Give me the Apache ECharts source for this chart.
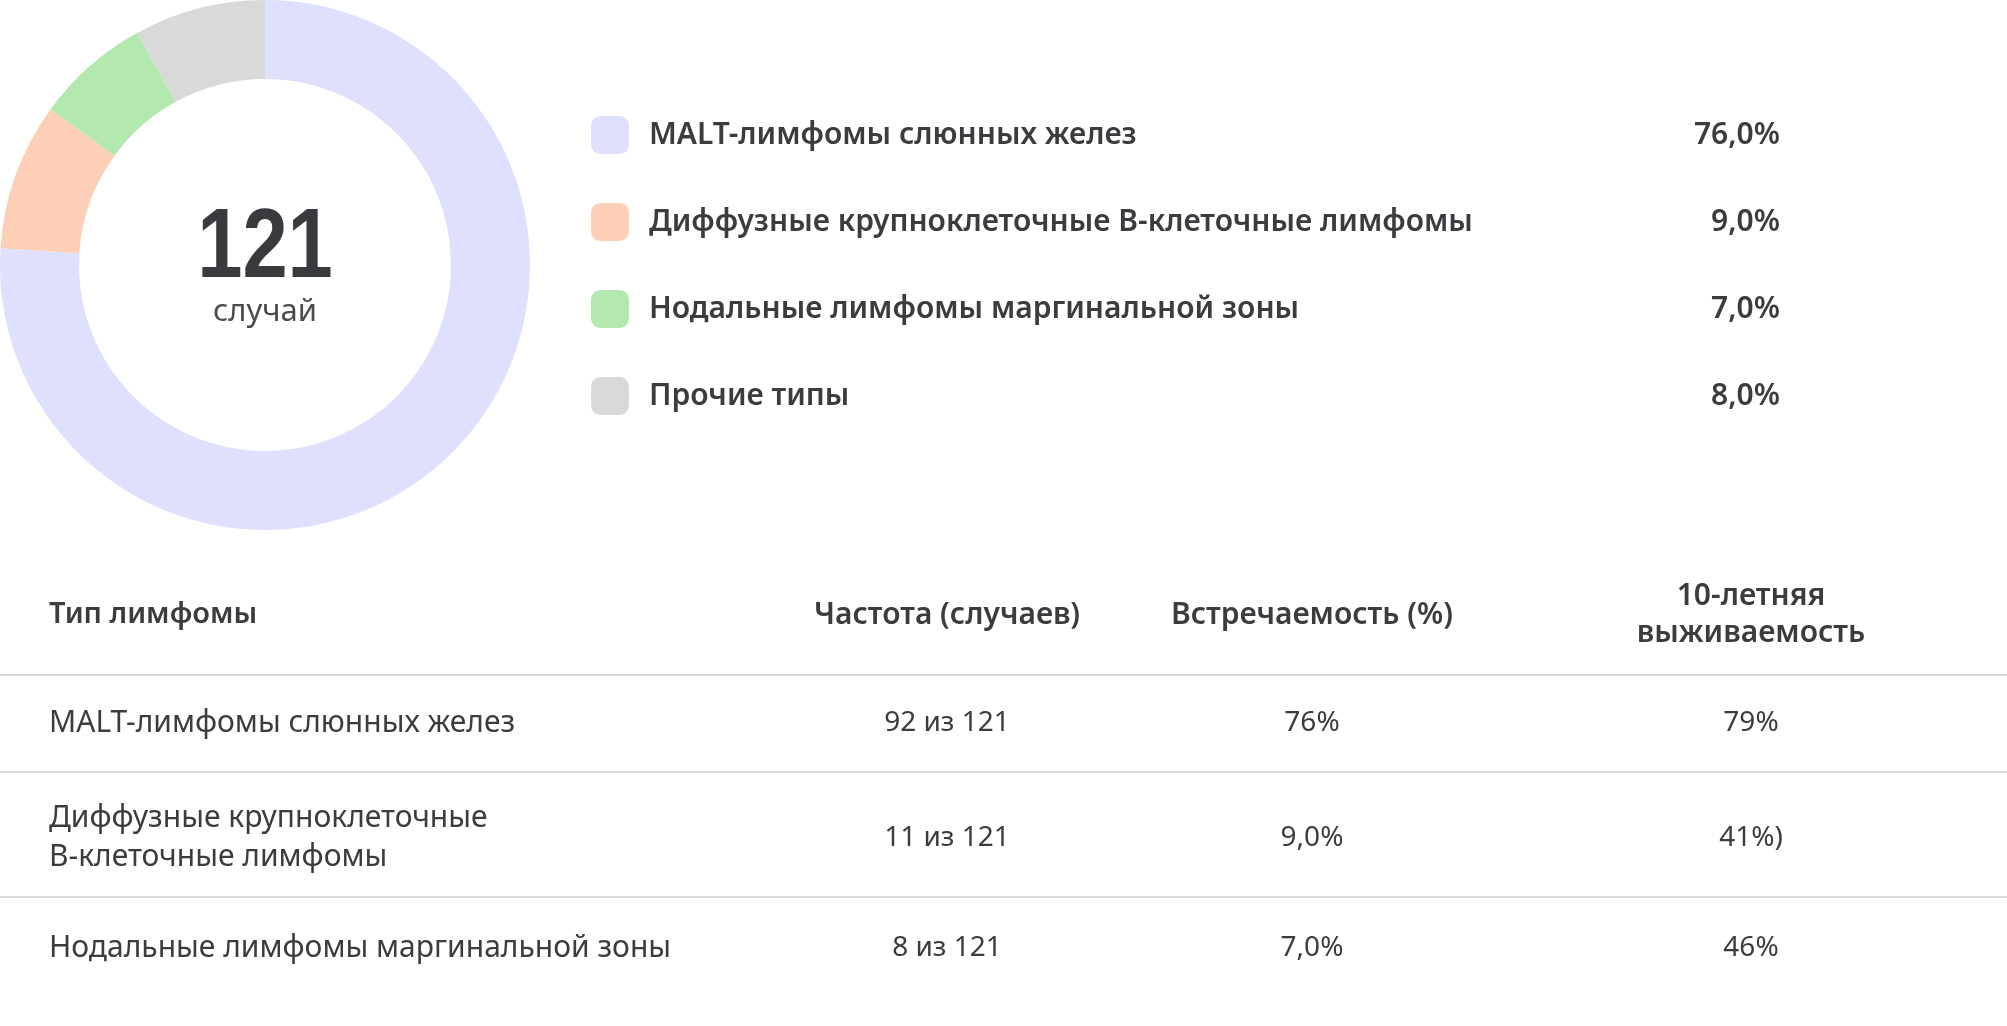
<!DOCTYPE html>
<html><head><meta charset="utf-8">
<script src="https://cdn.jsdelivr.net/npm/echarts@6/dist/echarts.min.js"></script>
<style>html,body{margin:0;padding:0;background:#fff}#c{width:2007px;height:1026px}</style>
</head><body><div id="c"></div>
<script>
const categories = ['MALT-лимфомы слюнных желез','Диффузные крупноклеточные B-клеточные лимфомы','Нодальные лимфомы маргинальной зоны','Прочие типы'];
const shares = [76, 9, 7, 8];
const shareLabels = ['76,0%','9,0%','7,0%','8,0%'];
const colors = ['#dee0fd','#fecfb7','#b3e8ae','#d9d9d9'];
const totalCases = '121';
const totalLabel = 'случай';
const tableHeader = ['Тип лимфомы','Частота (случаев)','Встречаемость (%)','10-летняя\nвыживаемость'];
const tableTypes = ['MALT-лимфомы слюнных желез','Диффузные крупноклеточные\nB-клеточные лимфомы','Нодальные лимфомы маргинальной зоны'];
const tableFreq = ['92 из 121','11 из 121','8 из 121'];
const tableIncidence = ['76%','9,0%','7,0%'];
const tableSurvival = ['79%','41%)','46%'];

const FONT = '"Noto Sans", "Open Sans", sans-serif';
const TXT = '#3c3c40';

const chart = echarts.init(document.getElementById('c'), null, {renderer:'canvas'});

// table layout
const colX = [49, 947, 1312, 1751];
const headerY = 615;
const rowY = [723, 838, 948];
const lineY = [675, 772, 897];

const graphics = [];
graphics.push({type:'text', x:265, y:250, scaleX:0.83, style:{text:totalCases, font:'bold 98px "Liberation Sans", Arial, sans-serif', fill:'#3a3a3e', align:'center', verticalAlign:'middle'}, silent:true});
graphics.push({type:'text', x:265, y:312, style:{text:totalLabel, font:'31px '+FONT, fill:'#4a4a4e', align:'center', verticalAlign:'middle'}, silent:true});
tableHeader.forEach((h,i)=>{
  graphics.push({type:'text', x:colX[i], y:headerY, style:{text:h, font:(i===0?'600 29px ':'600 30px ')+FONT, lineHeight:37, fill:TXT, align: i===0?'left':'center', verticalAlign:'middle'}, silent:true});
});
lineY.forEach(y=>{
  graphics.push({type:'line', shape:{x1:0,y1:y,x2:2007,y2:y}, style:{stroke:'#d9d9d9', lineWidth:2}, silent:true});
});
tableTypes.forEach((t,r)=>{
  const vals = [t, tableFreq[r], tableIncidence[r], tableSurvival[r]];
  vals.forEach((v,i)=>{
    graphics.push({type:'text', x:colX[i], y:rowY[r], style:{text:v, font:(i===0?'30px ':'28px ')+FONT, lineHeight:39, fill:TXT, align: i===0?'left':'center', verticalAlign:'middle'}, silent:true});
  });
});

chart.setOption({
  animation:false,
  color: colors,
  legend:{
    orient:'vertical', left:586, top:111,
    itemWidth:38, itemHeight:38, itemGap:49, icon:'roundRect',
    selectedMode:false,
    data: categories,
    formatter: name => {
      const i = categories.indexOf(name);
      return '{s|}{n|'+name+'}{v|'+shareLabels[i]+'}';
    },
    textStyle:{
      rich:{
        s:{width:15},
        n:{width:1011, fontFamily:FONT, fontSize:30, fontWeight:600, color:TXT, lineHeight:38},
        v:{width:120, align:'right', fontFamily:FONT, fontSize:30, fontWeight:600, color:TXT, lineHeight:38}
      }
    }
  },
  series:[{
    type:'pie', center:[265,265], radius:[186,265], startAngle:90, clockwise:true,
    silent:true, label:{show:false}, labelLine:{show:false},
    emphasis:{disabled:true},
    data: categories.map((c,i)=>({name:c, value:shares[i]}))
  }],
  graphic: graphics
});
</script></body></html>
